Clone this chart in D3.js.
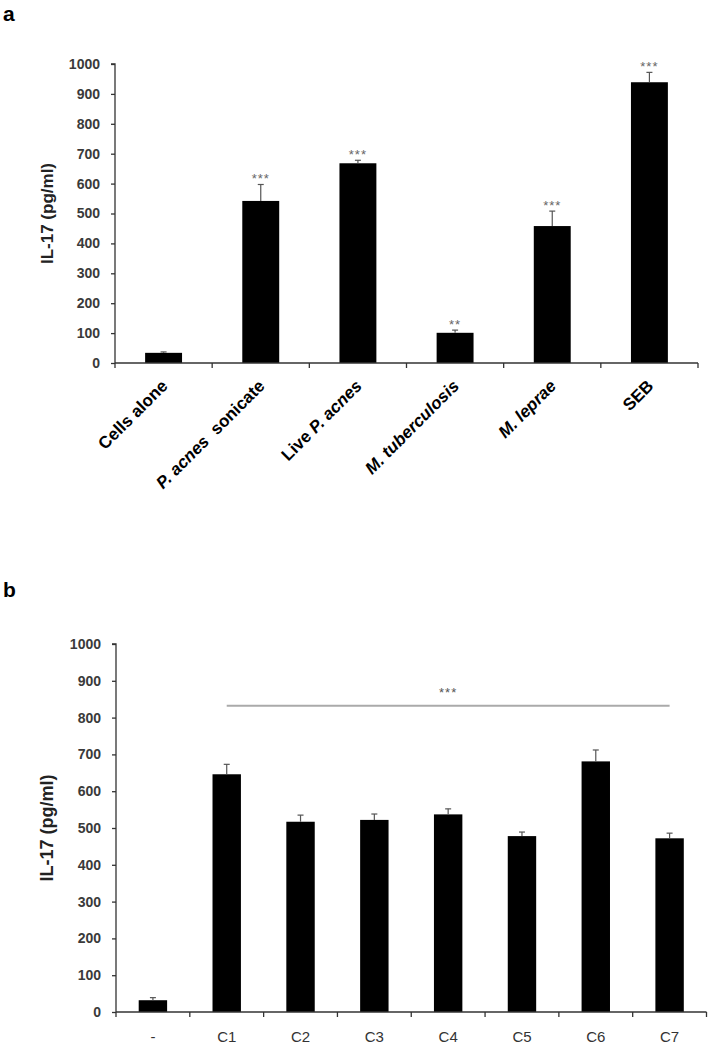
<!DOCTYPE html>
<html>
<head>
<meta charset="utf-8">
<script src="https://cdn.jsdelivr.net/npm/d3@7"></script>
<style>
  body { margin: 0; background: #fff; }
  svg { display: block; font-family: "Liberation Sans", Arial, sans-serif; }
</style>
</head>
<body>
<svg id="chart" width="710" height="1050"></svg>
<script>
// ---- Panel a data ----
const catsA = ["Cells alone", "P. acnes sonicate", "Live P. acnes", "M. tuberculosis", "M. leprae", "SEB"];
const valsA = [34, 542, 668, 101, 458, 939];
const errA = [3, 55, 10, 9, 50, 33];
const sigA = ["", "***", "***", "**", "***", "***"];
// label pieces: [text, italic]
const labelPartsA = [
  [["Cells alone", false]],
  [["P. acnes", true], ["  sonicate", false]],
  [["Live ", false], ["P. acnes", true]],
  [["M. tuberculosis", true]],
  [["M. leprae", true]],
  [["SEB", false]]
];

// ---- Panel b data ----
const catsB = ["-", "C1", "C2", "C3", "C4", "C5", "C6", "C7"];
const valsB = [32, 646, 517, 522, 537, 478, 681, 472];
const errB = [7, 27, 18, 16, 15, 11, 31, 14];
const sigLineB = { from: "C1", to: "C7", value: 832, label: "***" };

const yTicks = [0, 100, 200, 300, 400, 500, 600, 700, 800, 900, 1000];
const yTitle = "IL-17 (pg/ml)";

const svg = d3.select("#chart");
const axisColor = "#333";

function drawPanel(cfg) {
  const g = svg.append("g");
  const x = d3.scaleBand().domain(cfg.cats).range([cfg.x0, cfg.x1])
    .paddingInner(cfg.pad).paddingOuter(cfg.pad / 2);
  const y = d3.scaleLinear().domain([0, 1000]).range([cfg.y0, cfg.y1]);
  const step = x.step();

  // bars
  g.selectAll("rect.bar").data(cfg.cats).join("rect")
    .attr("x", d => x(d)).attr("width", x.bandwidth())
    .attr("y", (d, i) => y(cfg.vals[i]))
    .attr("height", (d, i) => y(0) - y(cfg.vals[i]))
    .attr("fill", "#000");

  // error bars (upper only)
  cfg.cats.forEach((d, i) => {
    const cx = x(d) + x.bandwidth() / 2;
    const top = y(cfg.vals[i] + cfg.errs[i]);
    g.append("line").attr("x1", cx).attr("x2", cx)
      .attr("y1", y(cfg.vals[i])).attr("y2", top)
      .attr("stroke", "#555").attr("stroke-width", 1.2);
    g.append("line").attr("x1", cx - 3).attr("x2", cx + 3)
      .attr("y1", top).attr("y2", top)
      .attr("stroke", "#555").attr("stroke-width", 1.2);
    if (cfg.sig && cfg.sig[i]) {
      g.append("text").attr("x", cx).attr("y", top - 1)
        .attr("text-anchor", "middle").attr("font-size", 13)
        .attr("letter-spacing", 1).attr("fill", "#666")
        .text(cfg.sig[i]);
    }
  });

  // y axis
  const yAxis = d3.axisLeft(y).tickValues(yTicks).tickFormat(d3.format("d"))
    .tickSize(4).tickPadding(11);
  const ya = g.append("g").attr("transform", `translate(${cfg.x0},0)`).call(yAxis);
  ya.select(".domain").attr("stroke", axisColor).attr("stroke-width", 1.3)
    .attr("d", `M-4,${y(1000)}H0V${y(0)}`);
  ya.selectAll(".tick line").attr("stroke", axisColor).attr("stroke-width", 1.3);
  ya.selectAll(".tick text").attr("font-size", 14).attr("font-weight", "bold")
    .attr("fill", "#3a3a3a").attr("font-family", "Liberation Sans, Arial, sans-serif");

  // x axis line + boundary ticks
  g.append("line").attr("x1", cfg.x0).attr("x2", cfg.x1)
    .attr("y1", y(0)).attr("y2", y(0))
    .attr("stroke", axisColor).attr("stroke-width", 1.3);
  const bounds = cfg.cats.map(d => x(d) - step * cfg.pad / 2).concat([cfg.x1]);
  g.selectAll("line.xt").data(bounds).join("line")
    .attr("x1", d => d).attr("x2", d => d)
    .attr("y1", y(0)).attr("y2", y(0) + 5)
    .attr("stroke", axisColor).attr("stroke-width", 1.3);

  // y title
  g.append("text")
    .attr("transform", `translate(${cfg.titleX},${(y(0) + y(1000)) / 2}) rotate(-90)`)
    .attr("text-anchor", "middle").attr("font-size", cfg.titleSize)
    .attr("font-weight", "bold").attr("fill", "#222")
    .text(yTitle);

  return { g, x, y };
}

// ---- Panel a ----
const A = drawPanel({
  cats: catsA, vals: valsA, errs: errA, sig: sigA,
  x0: 115, x1: 698, y0: 363, y1: 64, pad: 0.62, titleX: 53, titleSize: 17
});
catsA.forEach((d, i) => {
  const cx = A.x(d) + A.x.bandwidth() / 2 + 5;
  const t = A.g.append("text")
    .attr("transform", `translate(${cx},387) rotate(-45)`)
    .attr("text-anchor", "end").attr("font-size", 17)
    .attr("font-weight", "bold").attr("fill", "#000")
    .attr("xml:space", "preserve").style("white-space", "pre");
  labelPartsA[i].forEach(p => {
    t.append("tspan").attr("font-style", p[1] ? "italic" : "normal").text(p[0]);
  });
});
svg.append("text").attr("x", 3).attr("y", 21).attr("font-size", 21)
  .attr("font-weight", "bold").text("a");

// ---- Panel b ----
const B = drawPanel({
  cats: catsB, vals: valsB, errs: errB, sig: null,
  x0: 116, x1: 706.5, y0: 1012, y1: 644, pad: 0.615, titleX: 53, titleSize: 18
});
B.g.selectAll("text.xl").data(catsB).join("text")
  .attr("x", d => B.x(d) + B.x.bandwidth() / 2).attr("y", 1042)
  .attr("text-anchor", "middle").attr("font-size", 15).attr("fill", "#333")
  .text(d => d);
{
  const xa = B.x(sigLineB.from) + B.x.bandwidth() / 2;
  const xb = B.x(sigLineB.to) + B.x.bandwidth() / 2;
  const yl = B.y(sigLineB.value);
  B.g.append("line").attr("x1", xa).attr("x2", xb).attr("y1", yl).attr("y2", yl)
    .attr("stroke", "#aaa").attr("stroke-width", 2);
  B.g.append("text").attr("x", (xa + xb) / 2).attr("y", yl - 9)
    .attr("text-anchor", "middle").attr("font-size", 13).attr("letter-spacing", 1)
    .attr("fill", "#555").text(sigLineB.label);
}
svg.append("text").attr("x", 3).attr("y", 597).attr("font-size", 21)
  .attr("font-weight", "bold").text("b");
</script>
</body>
</html>
